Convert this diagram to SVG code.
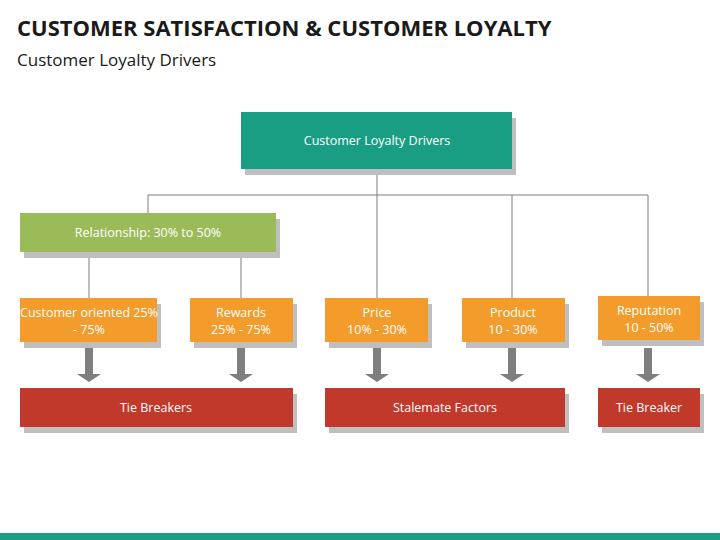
<svg xmlns="http://www.w3.org/2000/svg" width="720" height="540" viewBox="0 0 720 540">
<defs><style>
.t{font-family:"Open Sans","Liberation Sans",sans-serif;fill:#fff;font-size:12.5px;text-anchor:middle}
.sh{fill:#bfbfbf}
.ln{stroke:#7f7f7f;stroke-width:1;fill:none}
.ar{fill:#7f7f7f}
</style></defs>
<rect width="720" height="540" fill="#fff"/>
<text x="17" y="36" font-family="'Open Sans','Liberation Sans',sans-serif" font-weight="bold" font-size="22" fill="#1a1a1a">CUSTOMER SATISFACTION &amp; CUSTOMER LOYALTY</text>
<text x="17" y="66" font-family="'Open Sans','Liberation Sans',sans-serif" font-size="17" fill="#1a1a1a">Customer Loyalty Drivers</text>
<g id="connectors">
<path class="ln" d="M377 169V195M148 195H648M148 195V213M377 195V298M512 195V298M648 195V296M89 252V298M241 252V298"/>
<g class="ar">
<path d="M85 348h8v26h8l-12 8l-12-8h8z"/>
<path d="M237 348h8v26h8l-12 8l-12-8h8z"/>
<path d="M373 348h8v26h8l-12 8l-12-8h8z"/>
<path d="M508 348h8v26h8l-12 8l-12-8h8z"/>
<path d="M644 348h8v26h8l-12 8l-12-8h8z"/>
</g>
</g>
<g id="root"><rect class="sh" x="245" y="118" width="271" height="57"/><rect x="241" y="112" width="271" height="57" fill="#1a9e83"/><text class="t" x="377" y="145">Customer Loyalty Drivers</text></g>
<g id="relationship"><rect class="sh" x="24" y="219" width="256" height="39"/><rect x="20" y="213" width="256" height="39" fill="#9bbb59"/><text class="t" x="148" y="237">Relationship: 30% to 50%</text></g>
<g id="customer"><rect class="sh" x="24" y="304" width="137" height="44"/><rect x="20" y="298" width="137" height="44" fill="#f39c2b"/><text class="t" x="89" y="317">Customer oriented 25%</text><text class="t" x="89" y="334">- 75%</text></g>
<g id="rewards"><rect class="sh" x="194" y="304" width="103" height="44"/><rect x="190" y="298" width="103" height="44" fill="#f39c2b"/><text class="t" x="241" y="317">Rewards</text><text class="t" x="241" y="334">25% - 75%</text></g>
<g id="price"><rect class="sh" x="329" y="304" width="103" height="44"/><rect x="325" y="298" width="103" height="44" fill="#f39c2b"/><text class="t" x="377" y="317">Price</text><text class="t" x="377" y="334">10% - 30%</text></g>
<g id="product"><rect class="sh" x="466" y="304" width="103" height="44"/><rect x="462" y="298" width="103" height="44" fill="#f39c2b"/><text class="t" x="513" y="317">Product</text><text class="t" x="513" y="334">10 - 30%</text></g>
<g id="reputation"><rect class="sh" x="602" y="302" width="102" height="44"/><rect x="598" y="296" width="102" height="44" fill="#f39c2b"/><text class="t" x="649" y="315">Reputation</text><text class="t" x="649" y="332">10 - 50%</text></g>
<g id="tie"><rect class="sh" x="24" y="394" width="273" height="39"/><rect x="20" y="388" width="273" height="39" fill="#c0392b"/><text class="t" x="156" y="412">Tie Breakers</text></g>
<g id="stalemate"><rect class="sh" x="329" y="394" width="240" height="39"/><rect x="325" y="388" width="240" height="39" fill="#c0392b"/><text class="t" x="445" y="412">Stalemate Factors</text></g>
<g id="tiebreaker"><rect class="sh" x="602" y="394" width="102" height="39"/><rect x="598" y="388" width="102" height="39" fill="#c0392b"/><text class="t" x="649" y="412">Tie Breaker</text></g>
<rect x="0" y="533" width="720" height="7" fill="#1a9e83"/>
</svg>
